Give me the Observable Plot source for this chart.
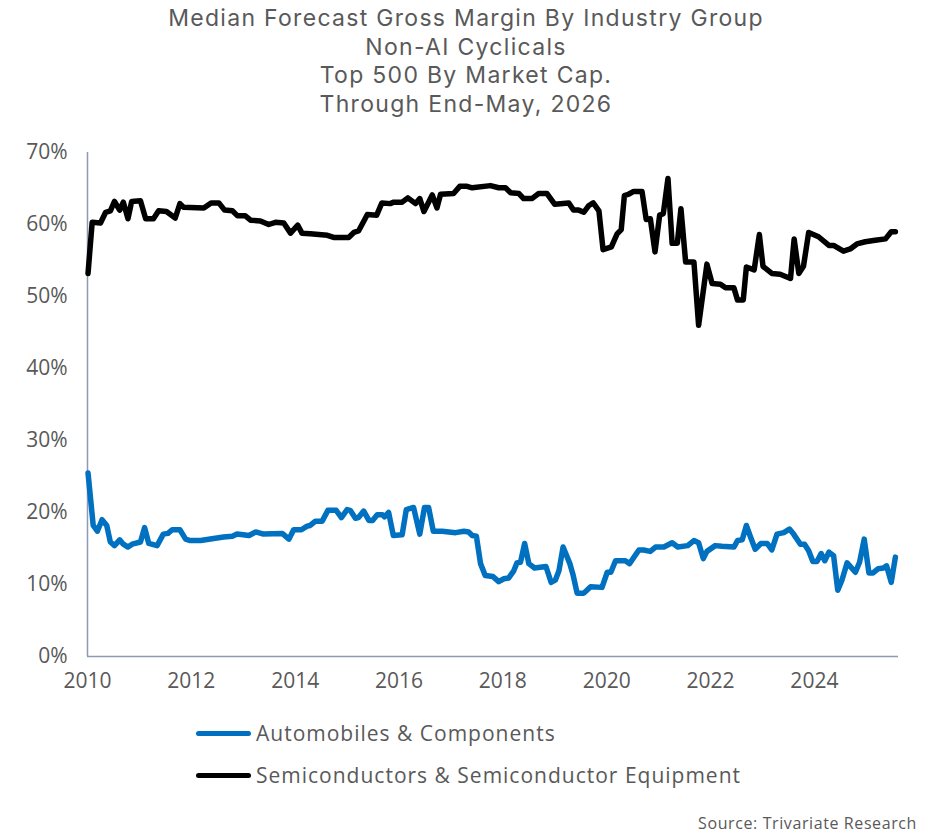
<!DOCTYPE html>
<html>
<head>
<meta charset="utf-8">
<script src="https://cdn.jsdelivr.net/npm/d3@7"></script>
<script src="https://cdn.jsdelivr.net/npm/@observablehq/plot@0.6"></script>
<style>
  html, body { margin: 0; padding: 0; background: #fff; }
  body { width: 939px; height: 835px; font-family: "Open Sans", sans-serif; color: #595959; position: relative; overflow: hidden; }
  #title { position: absolute; left: 0; top: 4px; width: 932px; text-align: center; font-family: Inter, "Open Sans", sans-serif; font-size: 23px; letter-spacing: 1.3px; color: #595959; font-weight: 400; }
  #title div { height: 28.5px; line-height: 28.5px; white-space: nowrap; }
  #chart { position: absolute; left: 0; top: 118px; }
  #legend { position: absolute; left: 196px; top: 712px; }
  .row { height: 42px; display: flex; align-items: center; font-size: 21px; letter-spacing: 1px; color: #595959; }
  .sw { width: 55px; height: 5px; border-radius: 3px; margin-right: 5px; }
  #source { position: absolute; right: 22px; top: 813px; font-size: 16px; letter-spacing: 0.6px; line-height: 20px; color: #595959; }
</style>
</head>
<body>
<div id="title"></div>
<div id="chart"></div>
<div id="legend"></div>
<div id="source">Source: Trivariate Research</div>
<script>
const titleLines = ["Median Forecast Gross Margin By Industry Group", "Non-AI Cyclicals", "Top 500 By Market Cap.", "Through End-May, 2026"];
const seriesNames = ["Automobiles & Components", "Semiconductors & Semiconductor Equipment"];
const seriesColors = ["#0070C0", "#000000"];
const yTicks = [0, 10, 20, 30, 40, 50, 60, 70];
const xTicks = [2010, 2012, 2014, 2016, 2018, 2020, 2022, 2024];

// Semiconductors & Semiconductor Equipment (decimal year, %)
const semiYears = [2010.01,2010.09,2010.25,2010.35,2010.44,2010.52,2010.62,2010.69,2010.78,2010.85,2011.02,2011.12,2011.27,2011.37,2011.52,2011.69,2011.78,2011.85,2012.24,2012.38,2012.53,2012.64,2012.79,2012.89,2013.04,2013.14,2013.33,2013.49,2013.62,2013.78,2013.91,2014.05,2014.13,2014.29,2014.62,2014.74,2015.03,2015.13,2015.22,2015.39,2015.57,2015.67,2015.83,2015.90,2016.06,2016.17,2016.32,2016.40,2016.48,2016.64,2016.73,2016.80,2017.05,2017.17,2017.31,2017.41,2017.76,2017.92,2018.05,2018.15,2018.31,2018.40,2018.56,2018.69,2018.85,2019.00,2019.27,2019.36,2019.46,2019.56,2019.65,2019.74,2019.85,2019.93,2020.09,2020.20,2020.28,2020.34,2020.42,2020.52,2020.68,2020.76,2020.84,2020.93,2021.02,2021.09,2021.18,2021.26,2021.36,2021.43,2021.52,2021.68,2021.77,2021.93,2022.03,2022.19,2022.29,2022.45,2022.52,2022.63,2022.69,2022.84,2022.94,2023.01,2023.18,2023.34,2023.54,2023.61,2023.70,2023.79,2023.89,2024.08,2024.28,2024.37,2024.56,2024.69,2024.82,2024.98,2025.17,2025.37,2025.48,2025.56];
const semiValues = [53.2,60.3,60.2,61.7,61.9,63.2,62.0,63.1,60.8,63.2,63.3,60.8,60.8,61.9,61.8,60.9,62.9,62.4,62.3,63.0,63.0,62.0,61.9,61.2,61.2,60.6,60.5,60.0,60.3,60.2,58.8,59.9,58.8,58.7,58.5,58.2,58.2,58.9,59.1,61.4,61.3,63.0,62.9,63.1,63.1,63.7,62.9,63.6,61.8,64.1,62.3,64.2,64.3,65.3,65.3,65.1,65.4,65.1,65.1,64.4,64.3,63.6,63.6,64.3,64.3,62.8,63.0,62.0,62.0,61.7,62.6,63.0,61.9,56.5,56.9,58.7,59.3,64.0,64.2,64.6,64.6,60.7,60.8,56.2,61.3,61.5,66.4,57.4,57.4,62.2,54.8,54.8,46.0,54.5,51.8,51.7,51.2,51.2,49.5,49.5,54.1,53.7,58.6,54.2,53.2,53.1,52.5,58.0,53.2,54.2,58.9,58.3,57.1,57.1,56.3,56.6,57.3,57.6,57.8,58.0,59.0,59.0];

// Automobiles & Components (decimal year, %)
const autoYears = [2010.01,2010.11,2010.19,2010.28,2010.37,2010.44,2010.52,2010.62,2010.69,2010.78,2010.86,2011.02,2011.10,2011.18,2011.34,2011.46,2011.55,2011.63,2011.78,2011.89,2011.98,2012.18,2012.43,2012.62,2012.79,2012.88,2013.11,2013.24,2013.39,2013.75,2013.88,2013.97,2014.12,2014.23,2014.29,2014.39,2014.52,2014.63,2014.79,2014.89,2015.00,2015.06,2015.16,2015.22,2015.32,2015.42,2015.49,2015.58,2015.68,2015.72,2015.80,2015.89,2016.06,2016.14,2016.28,2016.40,2016.49,2016.57,2016.66,2016.83,2017.09,2017.25,2017.34,2017.41,2017.49,2017.57,2017.66,2017.81,2017.92,2018.02,2018.11,2018.21,2018.27,2018.34,2018.42,2018.50,2018.61,2018.83,2018.93,2019.01,2019.08,2019.16,2019.29,2019.35,2019.43,2019.56,2019.69,2019.91,2020.01,2020.08,2020.17,2020.36,2020.44,2020.62,2020.71,2020.84,2020.94,2021.10,2021.26,2021.37,2021.56,2021.68,2021.77,2021.86,2021.93,2022.09,2022.22,2022.45,2022.52,2022.61,2022.69,2022.77,2022.86,2022.97,2023.09,2023.18,2023.28,2023.41,2023.52,2023.60,2023.73,2023.81,2023.89,2023.97,2024.05,2024.13,2024.20,2024.28,2024.37,2024.45,2024.53,2024.63,2024.79,2024.87,2024.96,2025.05,2025.13,2025.23,2025.33,2025.39,2025.48,2025.56];
const autoValues = [25.5,18.2,17.4,19.0,18.2,15.9,15.4,16.2,15.6,15.2,15.6,15.9,17.9,15.7,15.4,17.0,17.1,17.6,17.6,16.3,16.1,16.1,16.4,16.6,16.7,17.0,16.8,17.3,17.0,17.1,16.3,17.6,17.6,18.1,18.2,18.8,18.8,20.3,20.3,19.3,20.4,20.3,19.2,19.3,20.2,18.9,18.9,19.7,19.7,19.4,20.0,16.8,16.9,20.4,20.7,17.0,20.7,20.7,17.4,17.4,17.2,17.4,17.3,16.8,16.7,12.9,11.25,11.1,10.4,10.8,10.9,11.9,13.0,13.1,15.7,12.9,12.3,12.5,10.3,10.6,11.9,15.2,12.9,11.4,8.8,8.8,9.7,9.6,11.7,11.7,13.3,13.3,12.9,14.8,14.8,14.6,15.2,15.2,15.8,15.2,15.4,16.1,15.8,13.6,14.6,15.4,15.3,15.2,16.1,16.2,18.2,16.6,14.9,15.7,15.7,14.8,17.0,17.2,17.7,17.0,15.6,15.6,14.7,13.2,13.2,14.3,13.3,14.5,14.0,9.2,10.6,13.0,11.7,13.1,16.3,11.6,11.6,12.2,12.3,12.6,10.3,13.8];

const data = [
  ...autoYears.map((x, i) => ({x, y: autoValues[i], s: seriesNames[0]})),
  ...semiYears.map((x, i) => ({x, y: semiValues[i], s: seriesNames[1]}))
];

const titleEl = document.getElementById("title");
titleLines.forEach(t => {
  const d = document.createElement("div");
  d.textContent = t;
  titleEl.appendChild(d);
});

const axisColor = "#8c9bb2";

const chart = Plot.plot({
  width: 939,
  height: 578,
  marginTop: 34,
  marginBottom: 40,
  marginLeft: 87,
  marginRight: 41,
  style: { fontFamily: "'Open Sans', sans-serif", fontSize: "21px", color: "#595959", background: "transparent" },
  x: { domain: [2010, 2025.62] },
  y: { domain: [0, 70] },
  color: { domain: seriesNames, range: seriesColors },
  marks: [
    Plot.axisY({ticks: yTicks, tickSize: 0, tickPadding: 20, tickFormat: d => d + "%", label: null}),
    Plot.axisX({ticks: xTicks, tickSize: 0, tickPadding: 17, tickFormat: d => String(d), label: null}),
    Plot.ruleX([2010], {stroke: axisColor, strokeWidth: 1.5}),
    Plot.ruleY([0], {stroke: axisColor, strokeWidth: 1.5}),
    Plot.line(data, {x: "x", y: "y", z: "s", stroke: "s", strokeWidth: 5.5, strokeLinejoin: "round", strokeLinecap: "round"})
  ]
});
document.getElementById("chart").appendChild(chart);

const legend = document.getElementById("legend");
seriesNames.forEach((n, i) => {
  const row = document.createElement("div");
  row.className = "row";
  const sw = document.createElement("div");
  sw.className = "sw";
  sw.style.background = seriesColors[i];
  const t = document.createElement("span");
  t.textContent = n;
  row.appendChild(sw);
  row.appendChild(t);
  legend.appendChild(row);
});
</script>
</body>
</html>
